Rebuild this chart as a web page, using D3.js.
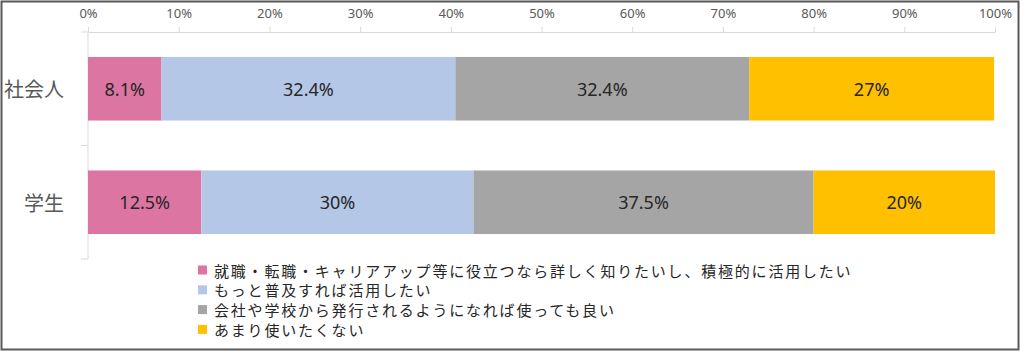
<!DOCTYPE html>
<html>
<head>
<meta charset="utf-8">
<script src="https://cdn.jsdelivr.net/npm/d3@7"></script>
<style>
  html, body { margin: 0; padding: 0; background: #fff; }
  svg { display: block; }
</style>
</head>
<body>
<svg id="chart" width="1024" height="355"></svg>
<script>
// ---- data ----
const categories = ["社会人", "学生"];
const seriesNames = [
  "就職・転職・キャリアアップ等に役立つなら詳しく知りたいし、積極的に活用したい",
  "もっと普及すれば活用したい",
  "会社や学校から発行されるようになれば使っても良い",
  "あまり使いたくない"
];
const series1 = [8.1, 12.5];
const series2 = [32.4, 30];
const series3 = [32.4, 37.5];
const series4 = [27, 20];
const tickValues = [0, 10, 20, 30, 40, 50, 60, 70, 80, 90, 100];
const colors = ["#DD75A2", "#B4C7E7", "#A5A5A5", "#FFC000"];

// ---- build ----
const allSeries = [series1, series2, series3, series4];
const rows = categories.map((c, i) => {
  const r = { cat: c };
  seriesNames.forEach((s, j) => r[s] = allSeries[j][i]);
  return r;
});
const stacked = d3.stack().keys(seriesNames)(rows);

const svg = d3.select("#chart");
const fontCJK = "'Noto Sans CJK JP', 'Noto Sans', sans-serif";
const fontNum = "'Noto Sans', 'Noto Sans CJK JP', sans-serif";

// outer border
svg.append("rect")
  .attr("x", 1.5).attr("y", 1.5).attr("width", 1017).attr("height", 348)
  .attr("fill", "#fff").attr("stroke", "#595959").attr("stroke-width", 2);

const x = d3.scaleLinear().domain([0, 100]).range([88, 995]);
const y = d3.scaleBand().domain(categories).range([32, 259])
  .paddingInner(0.44).paddingOuter(0.22);

// x axis (top)
const xAxis = svg.append("g").attr("transform", "translate(0,32)")
  .call(d3.axisTop(x).tickValues(tickValues).tickFormat(d => d + "%")
    .tickSize(5).tickPadding(9).tickSizeOuter(0));
xAxis.select(".domain").attr("stroke", "#D9D9D9");
xAxis.selectAll(".tick line").attr("stroke", "#D9D9D9");
xAxis.selectAll(".tick text").attr("fill", "#595959")
  .style("font-family", fontNum).style("font-size", "13px");

// y axis line + category boundary ticks
svg.append("line").attr("x1", x(0)).attr("x2", x(0))
  .attr("y1", y.range()[0]).attr("y2", y.range()[1])
  .attr("stroke", "#D9D9D9");
const bounds = [y.range()[0], (y(categories[0]) + y.bandwidth() + y(categories[1])) / 2, y.range()[1]];
svg.selectAll("line.ctick").data(bounds).join("line").attr("class", "ctick")
  .attr("x1", x(0) - 7).attr("x2", x(0)).attr("y1", d => d).attr("y2", d => d)
  .attr("stroke", "#D9D9D9");

// category labels
svg.selectAll("text.cat").data(categories).join("text").attr("class", "cat")
  .attr("x", 64).attr("y", d => y(d) + y.bandwidth() / 2)
  .attr("text-anchor", "end").attr("dominant-baseline", "central")
  .attr("fill", "#595959").style("font-family", fontCJK).style("font-size", "20px")
  .text(d => d);

// bars
const layers = svg.selectAll("g.layer").data(stacked).join("g").attr("class", "layer")
  .attr("fill", (d, i) => colors[i]);
layers.selectAll("rect").data(d => d).join("rect")
  .attr("x", d => x(d[0])).attr("width", d => x(d[1]) - x(d[0]))
  .attr("y", d => y(d.data.cat)).attr("height", y.bandwidth());

// data labels
layers.selectAll("text").data(d => d.map(v => ({ v, key: d.key }))).join("text")
  .attr("x", d => (x(d.v[0]) + x(d.v[1])) / 2)
  .attr("y", d => y(d.v.data.cat) + y.bandwidth() / 2)
  .attr("text-anchor", "middle").attr("dominant-baseline", "central")
  .attr("fill", "#262626").style("font-family", fontNum).style("font-size", "18px")
  .text(d => d.v.data[d.key] + "%");

// legend
const legend = svg.selectAll("g.leg").data(seriesNames).join("g").attr("class", "leg")
  .attr("transform", (d, i) => `translate(198,${270 + i * 19.8})`);
legend.append("rect").attr("x", 0).attr("y", -4.5).attr("width", 9).attr("height", 9)
  .attr("fill", (d, i) => colors[i]);
legend.append("text").attr("x", 16).attr("y", 0).attr("dominant-baseline", "central")
  .attr("fill", "#262626").style("font-family", fontCJK).style("font-size", "15px")
  .style("letter-spacing", "1.8px")
  .text(d => d);
</script>
</body>
</html>
